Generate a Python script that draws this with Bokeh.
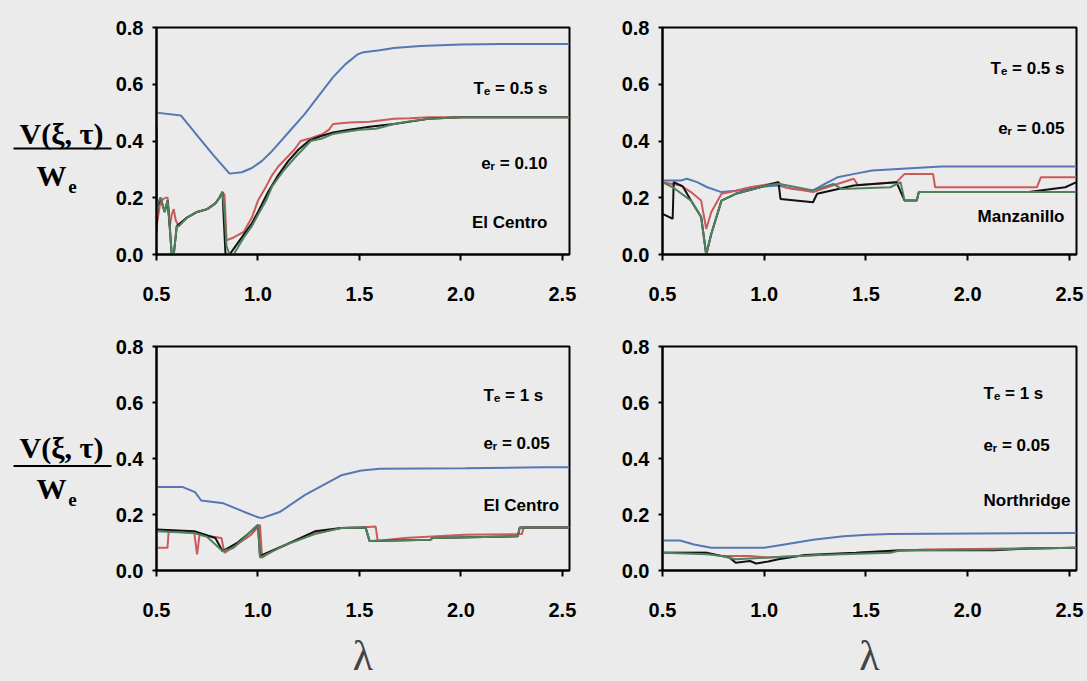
from bokeh.plotting import figure
from bokeh.layouts import column, row
from bokeh.models import Range1d, FixedTicker, NumeralTickFormatter, Label, BoxAnnotation
from bokeh.embed import file_html
from bokeh.resources import INLINE

# ---------------- data ----------------
X_TICKS = [0.5, 1.0, 1.5, 2.0, 2.5]
Y_TICKS = [0.0, 0.2, 0.4, 0.6, 0.8]
X_START, X_END = 0.5, 2.535
Y_START, Y_END = 0.0, 0.8

# Top-left: El Centro, Te = 0.5 s, er = 0.10
TL_BLUE_X = [0.50, 0.62, 0.70, 0.78, 0.86, 0.92, 0.97, 1.02, 1.07, 1.15, 1.23, 1.30, 1.37, 1.43, 1.49, 1.52, 1.60, 1.67, 1.80, 2.00, 2.20, 2.535]
TL_BLUE_Y = [0.50, 0.49, 0.42, 0.35, 0.285, 0.29, 0.305, 0.33, 0.365, 0.43, 0.495, 0.56, 0.625, 0.67, 0.705, 0.713, 0.72, 0.728, 0.735, 0.74, 0.742, 0.742]
TL_RED_X = [0.50, 0.505, 0.52, 0.545, 0.555, 0.565, 0.575, 0.585, 0.595, 0.61, 0.65, 0.70, 0.75, 0.79, 0.81, 0.825, 0.835, 0.845, 0.88, 0.93, 0.97, 1.00, 1.04, 1.07, 1.10, 1.14, 1.18, 1.21, 1.26, 1.32, 1.35, 1.37, 1.45, 1.55, 1.67, 1.75, 1.84, 2.00, 2.535]
TL_RED_Y = [0.10, 0.12, 0.19, 0.20, 0.20, 0.10, 0.14, 0.16, 0.12, 0.10, 0.13, 0.15, 0.16, 0.18, 0.20, 0.22, 0.21, 0.05, 0.06, 0.08, 0.13, 0.19, 0.24, 0.28, 0.31, 0.34, 0.37, 0.40, 0.41, 0.425, 0.44, 0.46, 0.465, 0.468, 0.478, 0.48, 0.484, 0.484, 0.484]
TL_GREEN_X = [0.50, 0.505, 0.52, 0.54, 0.555, 0.565, 0.575, 0.585, 0.60, 0.61, 0.65, 0.70, 0.75, 0.79, 0.81, 0.825, 0.835, 0.845, 0.86, 0.88, 0.93, 0.97, 1.00, 1.04, 1.07, 1.12, 1.18, 1.22, 1.26, 1.32, 1.37, 1.41, 1.50, 1.58, 1.62, 1.67, 1.75, 1.84, 2.00, 2.535]
TL_GREEN_Y = [0.13, 0.18, 0.20, 0.15, 0.19, 0.10, 0.0, 0.0, 0.10, 0.10, 0.13, 0.15, 0.16, 0.18, 0.20, 0.22, 0.15, 0.03, 0.0, 0.0, 0.06, 0.10, 0.14, 0.19, 0.24, 0.29, 0.34, 0.37, 0.40, 0.41, 0.425, 0.43, 0.44, 0.443, 0.45, 0.46, 0.47, 0.478, 0.484, 0.484]
TL_BLACK_X = [0.50, 0.50, 0.505, 0.52, 0.54, 0.555, 0.565, 0.575, 0.585, 0.60, 0.65, 0.70, 0.75, 0.79, 0.81, 0.825, 0.84, 0.86, 0.88, 0.93, 0.97, 1.00, 1.05, 1.10, 1.15, 1.20, 1.25, 1.30, 1.37, 1.45, 1.55, 1.67, 1.84, 2.00, 2.535]
TL_BLACK_Y = [0.45, 0.08, 0.17, 0.20, 0.15, 0.19, 0.10, 0.0, 0.0, 0.10, 0.13, 0.15, 0.16, 0.18, 0.20, 0.22, 0.0, 0.0, 0.02, 0.07, 0.11, 0.15, 0.22, 0.28, 0.33, 0.37, 0.40, 0.415, 0.43, 0.44, 0.45, 0.46, 0.478, 0.484, 0.484]

# Top-right: Manzanillo, Te = 0.5 s, er = 0.05
TR_BLUE_X = [0.50, 0.59, 0.62, 0.67, 0.72, 0.79, 0.86, 0.93, 1.00, 1.07, 1.14, 1.24, 1.30, 1.36, 1.45, 1.53, 1.70, 1.87, 2.535]
TR_BLUE_Y = [0.261, 0.261, 0.267, 0.255, 0.237, 0.22, 0.225, 0.231, 0.24, 0.243, 0.231, 0.226, 0.25, 0.272, 0.285, 0.296, 0.303, 0.31, 0.31]
TR_RED_X = [0.50, 0.59, 0.64, 0.69, 0.715, 0.74, 0.79, 0.86, 0.93, 1.00, 1.07, 1.10, 1.24, 1.31, 1.44, 1.46, 1.65, 1.69, 1.83, 1.84, 2.34, 2.36, 2.535]
TR_RED_Y = [0.255, 0.243, 0.22, 0.19, 0.09, 0.15, 0.214, 0.225, 0.237, 0.245, 0.255, 0.237, 0.22, 0.237, 0.267, 0.245, 0.255, 0.284, 0.284, 0.237, 0.237, 0.272, 0.272]
TR_GREEN_X = [0.50, 0.55, 0.64, 0.69, 0.715, 0.74, 0.79, 0.86, 1.01, 1.07, 1.24, 1.34, 1.38, 1.62, 1.67, 1.69, 1.75, 1.76, 2.535]
TR_GREEN_Y = [0.255, 0.237, 0.19, 0.132, 0.0, 0.073, 0.19, 0.214, 0.243, 0.249, 0.226, 0.249, 0.231, 0.237, 0.255, 0.19, 0.19, 0.22, 0.22]
TR_BLACK_X = [0.50, 0.55, 0.555, 0.60, 0.64, 0.69, 0.715, 0.74, 0.79, 0.86, 1.01, 1.07, 1.08, 1.24, 1.26, 1.44, 1.65, 1.69, 1.75, 1.76, 2.30, 2.48, 2.535]
TR_BLACK_Y = [0.143, 0.126, 0.255, 0.24, 0.19, 0.132, 0.0, 0.073, 0.19, 0.214, 0.243, 0.255, 0.196, 0.184, 0.214, 0.243, 0.255, 0.19, 0.19, 0.22, 0.22, 0.237, 0.255]

# Bottom-left: El Centro, Te = 1 s, er = 0.05
BL_BLUE_X = [0.50, 0.63, 0.69, 0.72, 0.83, 0.93, 1.00, 1.02, 1.11, 1.23, 1.41, 1.51, 1.60, 2.02, 2.40, 2.535]
BL_BLUE_Y = [0.298, 0.298, 0.28, 0.25, 0.24, 0.21, 0.19, 0.187, 0.21, 0.269, 0.34, 0.357, 0.363, 0.365, 0.369, 0.369]
BL_RED_X = [0.50, 0.554, 0.56, 0.686, 0.70, 0.712, 0.82, 0.835, 0.897, 0.967, 1.01, 1.02, 1.07, 1.18, 1.28, 1.41, 1.51, 1.58, 1.59, 1.72, 2.02, 2.30, 2.31, 2.535]
BL_RED_Y = [0.081, 0.081, 0.14, 0.134, 0.058, 0.128, 0.116, 0.063, 0.093, 0.128, 0.163, 0.046, 0.069, 0.105, 0.134, 0.152, 0.154, 0.157, 0.105, 0.116, 0.128, 0.13, 0.154, 0.154]
BL_GREEN_X = [0.50, 0.686, 0.75, 0.826, 0.88, 1.00, 1.01, 1.14, 1.28, 1.41, 1.53, 1.55, 1.85, 1.86, 2.28, 2.29, 2.535]
BL_GREEN_Y = [0.14, 0.134, 0.12, 0.069, 0.081, 0.163, 0.046, 0.093, 0.13, 0.152, 0.154, 0.105, 0.11, 0.116, 0.122, 0.154, 0.154]
BL_BLACK_X = [0.50, 0.686, 0.79, 0.826, 0.90, 0.967, 1.00, 1.01, 1.14, 1.28, 1.41, 1.53, 1.55, 1.85, 1.86, 2.28, 2.29, 2.535]
BL_BLACK_Y = [0.146, 0.14, 0.116, 0.069, 0.10, 0.14, 0.163, 0.052, 0.093, 0.14, 0.152, 0.154, 0.105, 0.11, 0.116, 0.122, 0.154, 0.154]

# Bottom-right: Northridge, Te = 1 s, er = 0.05
BR_BLUE_X = [0.50, 0.586, 0.655, 0.74, 1.00, 1.10, 1.24, 1.39, 1.51, 1.62, 2.535]
BR_BLUE_Y = [0.107, 0.107, 0.093, 0.081, 0.081, 0.093, 0.11, 0.122, 0.128, 0.13, 0.134]
BR_RED_X = [0.50, 0.72, 0.79, 0.93, 1.02, 1.27, 1.62, 1.79, 2.30, 2.535]
BR_RED_Y = [0.063, 0.063, 0.052, 0.052, 0.046, 0.055, 0.069, 0.075, 0.079, 0.081]
BR_GREEN_X = [0.50, 0.72, 0.79, 0.86, 1.02, 1.27, 1.62, 1.67, 2.13, 2.30, 2.535]
BR_GREEN_Y = [0.063, 0.058, 0.052, 0.04, 0.046, 0.055, 0.063, 0.072, 0.075, 0.079, 0.081]
BR_BLACK_X = [0.50, 0.72, 0.83, 0.86, 0.93, 0.96, 1.02, 1.07, 1.20, 1.45, 1.67, 2.13, 2.30, 2.535]
BR_BLACK_Y = [0.063, 0.063, 0.046, 0.028, 0.034, 0.025, 0.032, 0.04, 0.055, 0.063, 0.072, 0.072, 0.079, 0.081]

TL_NOTES = ["T\u2091 = 0.5 s", "e\u1d63 = 0.10", "El Centro"]
TR_NOTES = ["T\u2091 = 0.5 s", "e\u1d63 = 0.05", "Manzanillo"]
BL_NOTES = ["T\u2091 = 1 s", "e\u1d63 = 0.05", "El Centro"]
BR_NOTES = ["T\u2091 = 1 s", "e\u1d63 = 0.05", "Northridge"]

Y_LABEL_TOP = "V(\u03be, \u03c4)"
Y_LABEL_BOTTOM = "W"
Y_LABEL_SUB = "e"
X_LABEL = "\u03bb"

# ---------------- style ----------------
BG = "#ebebeb"
C_BLUE = "#5577b5"
C_RED = "#cc5a5a"
C_GREEN = "#4f8060"
C_BLACK = "#111111"
SANS = "Liberation Sans"
SERIF = "Liberation Serif"
LAB_W = 112
FRAME_H = 227
YPP = (Y_END - Y_START) / FRAME_H


def note(p, text, x, y, size, font=SANS, style="bold", align="left", xo=0, yo=0):
    p.add_layout(Label(x=x, y=y, x_offset=xo, y_offset=yo, text=text,
                       text_font=font, text_font_size=size, text_font_style=style,
                       text_align=align, text_baseline="middle", text_color="black"))


def label_column(height, top, bottom, dy_num, dy_bar, dy_w, dy_e):
    """Axis-free figure holding the fraction V(xi,tau)/W_e; its frame is aligned
    with the neighbouring panel frame, so offsets are pixels above the frame bottom."""
    q = figure(width=LAB_W, height=height, x_range=Range1d(0, LAB_W),
               y_range=Range1d(Y_START, Y_END), x_axis_type=None, y_axis_type=None,
               output_backend="svg", toolbar_location=None, min_border_left=0,
               min_border_right=0, min_border_top=top, min_border_bottom=bottom)
    q.background_fill_color = BG
    q.border_fill_color = BG
    q.outline_line_color = None
    q.grid.visible = False
    note(q, Y_LABEL_TOP, 61, Y_START, "30px", font=SERIF, align="center", yo=dy_num)
    q.add_layout(BoxAnnotation(left=13, right=111,
                               bottom=Y_START + (dy_bar - 1) * YPP,
                               top=Y_START + (dy_bar + 1) * YPP,
                               fill_color="black", fill_alpha=1.0, line_color=None))
    note(q, Y_LABEL_BOTTOM, 51, Y_START, "30px", font=SERIF, align="center", yo=dy_w)
    note(q, Y_LABEL_SUB, 72, Y_START, "19px", font=SERIF, align="center", yo=dy_e)
    return q


def panel(width, height, left, right, top, bottom, series, notes, note_dx, note_dys,
          note_align, xlabel):
    p = figure(width=width, height=height, x_range=Range1d(X_START, X_END),
               y_range=Range1d(Y_START, Y_END), output_backend="svg",
               toolbar_location=None, min_border_left=left, min_border_right=right,
               min_border_top=top, min_border_bottom=bottom)
    p.background_fill_color = BG
    p.border_fill_color = BG
    p.outline_line_color = "black"
    p.outline_line_width = 2
    p.xgrid.visible = False
    p.ygrid.visible = False

    xa, ya = p.xaxis[0], p.yaxis[0]
    xa.ticker = FixedTicker(ticks=X_TICKS)
    ya.ticker = FixedTicker(ticks=Y_TICKS)
    for ax in (xa, ya):
        ax.formatter = NumeralTickFormatter(format="0.0")
        ax.axis_line_width = 2
        ax.axis_line_color = "black"
        ax.major_tick_line_width = 2
        ax.major_tick_in = 0
        ax.minor_tick_line_color = None
        ax.major_label_text_font = SANS
        ax.major_label_text_font_style = "bold"
        ax.major_label_text_font_size = "20px"
        ax.major_label_text_color = "black"
    xa.major_tick_out = 6
    xa.major_label_standoff = 26
    ya.major_tick_out = 4
    ya.major_label_standoff = 9

    for (xs, ys, c) in series:
        p.line(xs, ys, line_color=c, line_width=2)

    for t, dy in zip(notes, note_dys):
        note(p, t, X_START, Y_START, "17px", align=note_align, xo=note_dx, yo=dy)

    if xlabel:
        xa.axis_label = X_LABEL
        xa.axis_label_text_font = SERIF
        xa.axis_label_text_font_style = "normal"
        xa.axis_label_text_font_size = "42px"
        xa.axis_label_standoff = 13
    return p


lab1 = label_column(320, 27, 66, 121, 106, 79, 68)
lab3 = label_column(361, 26, 108, 123, 106, 82, 71)

p1 = panel(579 - LAB_W, 320, 155 - LAB_W, 10, 27, 66,
           [(TL_BLUE_X, TL_BLUE_Y, C_BLUE), (TL_RED_X, TL_RED_Y, C_RED),
            (TL_BLACK_X, TL_BLACK_Y, C_BLACK), (TL_GREEN_X, TL_GREEN_Y, C_GREEN)],
           TL_NOTES, 391, [166, 91, 32], "right", False)
p2 = panel(508, 320, 83, 11, 27, 66,
           [(TR_BLUE_X, TR_BLUE_Y, C_BLUE), (TR_RED_X, TR_RED_Y, C_RED),
            (TR_BLACK_X, TR_BLACK_Y, C_BLACK), (TR_GREEN_X, TR_GREEN_Y, C_GREEN)],
           TR_NOTES, 402, [186, 126, 38], "right", False)
p3 = panel(579 - LAB_W, 361, 155 - LAB_W, 10, 26, 108,
           [(BL_BLUE_X, BL_BLUE_Y, C_BLUE), (BL_RED_X, BL_RED_Y, C_RED),
            (BL_BLACK_X, BL_BLACK_Y, C_BLACK), (BL_GREEN_X, BL_GREEN_Y, C_GREEN)],
           BL_NOTES, 327, [175, 127, 65], "left", True)
p4 = panel(508, 361, 83, 11, 26, 108,
           [(BR_BLUE_X, BR_BLUE_Y, C_BLUE), (BR_RED_X, BR_RED_Y, C_RED),
            (BR_BLACK_X, BR_BLACK_Y, C_BLACK), (BR_GREEN_X, BR_GREEN_Y, C_GREEN)],
           BR_NOTES, 321, [177, 125, 70], "left", True)

r1 = row(lab1, p1, p2, styles={"background-color": BG})
r2 = row(lab3, p3, p4, styles={"background-color": BG})
layout = column(r1, r2, styles={"background-color": BG})
open("out.html", "w").write(file_html(layout, INLINE))
